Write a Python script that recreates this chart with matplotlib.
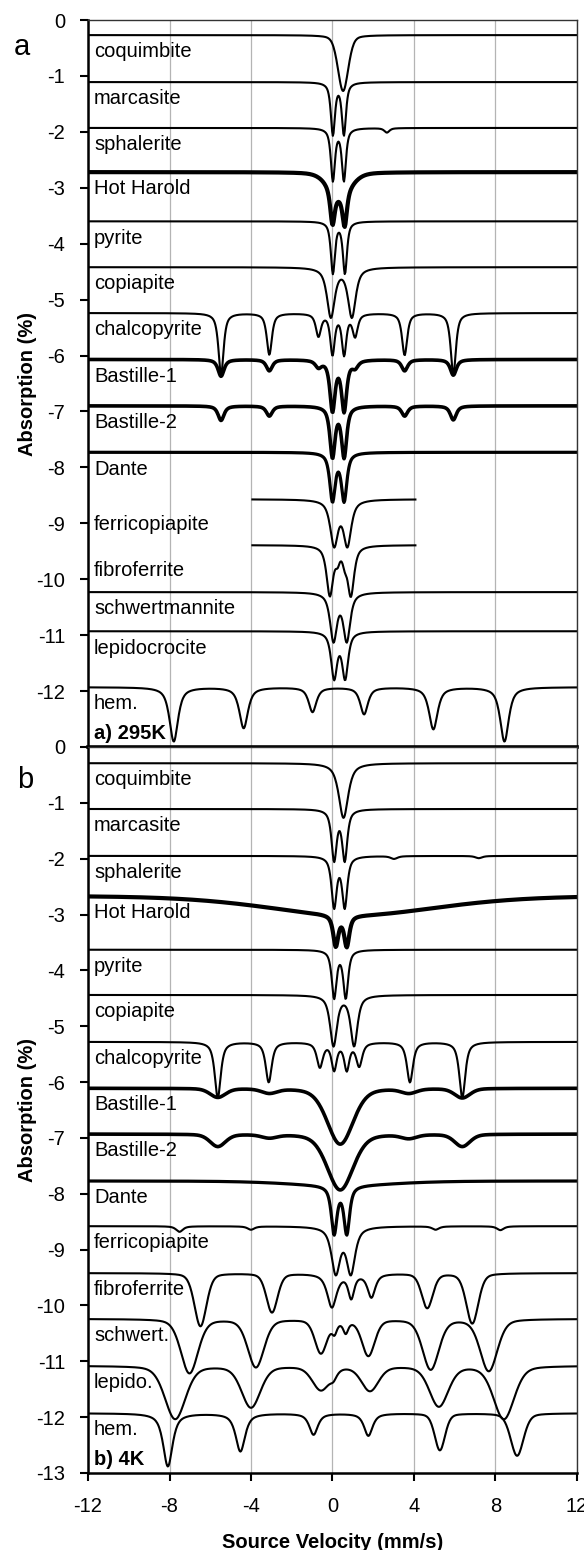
import numpy as np
import matplotlib.pyplot as plt

plt.rcParams['font.family'] = ['Liberation Sans', 'DejaVu Sans']
plt.rcParams['axes.unicode_minus'] = False

vel = np.linspace(-12, 12, 700)

# ---- a) 295 K ----
names_295 = ['coquimbite', 'marcasite', 'sphalerite', 'Hot Harold', 'pyrite', 'copiapite',
             'chalcopyrite', 'Bastille-1', 'Bastille-2', 'Dante', 'ferricopiapite',
             'fibroferrite', 'schwertmannite', 'lepidocrocite', 'hem.']
base_295 = [-0.27, -1.11, -1.93, -2.72, -3.60, -4.42, -5.24, -6.07, -6.90, -7.73,
            -8.57, -9.39, -10.23, -10.93, -11.93]
# absorption lines: (centre mm/s, depth %, fwhm mm/s)
peaks_295 = [
    [(0.52, 1.0, 0.6)],
    [(0.02, 0.93, 0.24), (0.56, 0.93, 0.24)],
    [(0.02, 0.93, 0.24), (0.56, 0.93, 0.24), (2.67, 0.08, 0.3)],
    [(0.0, 0.62, 0.26), (0.6, 0.62, 0.26), (0.35, 0.38, 1.3)],
    [(0.02, 0.92, 0.24), (0.61, 0.92, 0.24)],
    [(-0.08, 0.88, 0.45), (0.95, 0.88, 0.45)],
    [(-5.47, 1.1, 0.3), (-3.1, 0.74, 0.3), (-0.69, 0.4, 0.3), (0.0, 0.72, 0.26),
     (0.57, 0.72, 0.26), (1.11, 0.4, 0.3), (3.54, 0.75, 0.3), (5.93, 1.1, 0.3)],
    [(-5.47, 0.3, 0.35), (-3.1, 0.2, 0.35), (-0.69, 0.12, 0.35), (0.0, 0.9, 0.3),
     (0.57, 0.9, 0.3), (1.11, 0.12, 0.35), (3.54, 0.2, 0.35), (5.93, 0.28, 0.35)],
    [(-5.47, 0.26, 0.35), (-3.1, 0.18, 0.35), (0.0, 0.9, 0.3), (0.57, 0.9, 0.3),
     (3.54, 0.18, 0.35), (5.93, 0.25, 0.35)],
    [(0.0, 0.85, 0.32), (0.57, 0.85, 0.32)],
    [(0.08, 0.8, 0.45), (0.73, 0.8, 0.45)],
    [(-0.13, 0.88, 0.38), (0.9, 0.88, 0.38), (0.25, 0.2, 0.25), (0.6, 0.2, 0.25)],
    [(0.05, 0.85, 0.4), (0.7, 0.85, 0.4)],
    [(0.08, 0.82, 0.35), (0.62, 0.82, 0.35)],
    [(-7.79, 0.97, 0.5), (-4.36, 0.73, 0.5), (-0.98, 0.44, 0.45), (1.55, 0.48, 0.45),
     (4.95, 0.75, 0.5), (8.44, 0.97, 0.5)],
]
span_295 = {'ferricopiapite': (-3.95, 4.1), 'fibroferrite': (-3.95, 4.1)}

# ---- b) 4 K ----
names_4 = ['coquimbite', 'marcasite', 'sphalerite', 'Hot Harold', 'pyrite', 'copiapite',
           'chalcopyrite', 'Bastille-1', 'Bastille-2', 'Dante', 'ferricopiapite',
           'fibroferrite', 'schwert.', 'lepido.', 'hem.']
base_4 = [-0.29, -1.11, -1.95, -2.66, -3.63, -4.44, -5.28, -6.11, -6.93, -7.77,
          -8.58, -9.42, -10.24, -11.08, -11.93]
peaks_4 = [
    [(0.54, 0.98, 0.55)],
    [(0.08, 0.9, 0.3), (0.6, 0.9, 0.3)],
    [(0.08, 0.9, 0.3), (0.6, 0.9, 0.3), (3.02, 0.05, 0.4), (7.18, 0.04, 0.4)],
    [(0.16, 0.55, 0.3), (0.7, 0.55, 0.3), (1.0, 0.35, 10.0)],
    [(0.08, 0.85, 0.28), (0.65, 0.85, 0.28)],
    [(0.05, 0.9, 0.4), (1.06, 0.9, 0.4)],
    [(-5.63, 1.0, 0.35), (-3.13, 0.72, 0.35), (-0.62, 0.44, 0.35), (0.08, 0.48, 0.3),
     (0.7, 0.48, 0.3), (1.31, 0.42, 0.35), (3.8, 0.72, 0.35), (6.37, 1.0, 0.35)],
    [(-5.63, 0.16, 0.9), (-3.1, 0.08, 0.9), (0.38, 1.0, 1.5), (3.75, 0.08, 0.9),
     (6.37, 0.17, 0.9)],
    [(-5.63, 0.22, 0.9), (-3.1, 0.06, 0.9), (0.38, 1.0, 1.5), (3.75, 0.07, 0.9),
     (6.37, 0.22, 0.9)],
    [(0.08, 0.85, 0.33), (0.7, 0.85, 0.33), (0.4, 0.08, 6.0)],
    [(-7.51, 0.1, 0.4), (-4.0, 0.06, 0.4), (0.16, 0.82, 0.5), (0.9, 0.82, 0.5),
     (5.06, 0.06, 0.4), (8.24, 0.07, 0.4)],
    [(-6.48, 0.95, 0.7), (-2.97, 0.7, 0.65), (-0.03, 0.6, 0.55), (0.92, 0.42, 0.35),
     (1.91, 0.42, 0.45), (4.65, 0.62, 0.65), (6.86, 0.9, 0.7)],
    [(-7.02, 0.97, 1.0), (-3.76, 0.86, 0.95), (-0.57, 0.6, 0.7), (0.1, 0.2, 0.3),
     (0.65, 0.22, 0.3), (1.76, 0.65, 0.75), (4.82, 0.9, 0.95), (7.67, 0.93, 1.0)],
    [(-7.72, 0.95, 1.2), (-4.0, 0.74, 1.1), (-0.57, 0.42, 1.0), (0.05, 0.12, 0.4),
     (1.84, 0.44, 1.0), (5.22, 0.72, 1.1), (8.41, 0.95, 1.2)],
    [(-8.08, 0.95, 0.55), (-4.52, 0.68, 0.55), (-0.93, 0.38, 0.5), (1.76, 0.4, 0.5),
     (5.27, 0.66, 0.6), (9.06, 0.76, 0.75)],
]
span_4 = {}

thick = {'Hot Harold': 3.0, 'Bastille-1': 2.6, 'Bastille-2': 2.6, 'Dante': 2.3}


def spectrum(v, base, lines):
    y = np.full_like(v, base)
    for c, d, w in lines:
        eta = 0.75 if w < 0.6 else 0.3
        lor = 1 / (1 + ((v - c) / (w / 2)) ** 2)
        gau = np.exp(-4 * np.log(2) * ((v - c) / w) ** 2)
        y -= d * (eta * lor + (1 - eta) * gau)
    return y


fig = plt.figure(figsize=(5.84, 15.5), dpi=100)
left, width = 88 / 584, (577 - 88) / 584
ax1 = fig.add_axes([left, 1 - 747 / 1550, width, (747 - 20) / 1550])
ax2 = fig.add_axes([left, 1 - 1473 / 1550, width, (1473 - 747) / 1550])

fs = 14.5
for ax, names, bases, peaks, spans, tag in [
        (ax1, names_295, base_295, peaks_295, span_295, 'a) 295K'),
        (ax2, names_4, base_4, peaks_4, span_4, 'b) 4K')]:
    for name, b, lines in zip(names, bases, peaks):
        if name in spans:
            lo, hi = spans[name]
            v = vel[(vel >= lo) & (vel <= hi)]
            dy = 0.45
        else:
            v = vel
            dy = 0.3
        ax.plot(v, spectrum(v, b, lines), color='black', lw=thick.get(name, 1.5),
                solid_joinstyle='round')
        ax.text(-11.7, b - dy, name, fontsize=fs, va='center', ha='left')
    ax.text(-11.7, -12.75, tag, fontsize=fs, fontweight='bold', va='center', ha='left')
    ax.set_xlim(-12, 12)
    ax.set_ylim(-13, 0)
    ax.set_xticks([-12, -8, -4, 0, 4, 8, 12])
    ax.grid(axis='x', color='#b4b4b4', lw=0.9)
    ax.set_axisbelow(True)
    ax.set_ylabel('Absorption (%)', fontsize=fs, fontweight='bold')
    ax.yaxis.set_label_coords(-0.104, 0.5)
    for s in ['top', 'right']:
        ax.spines[s].set_linewidth(1.0)
        ax.spines[s].set_color('#333333')
    for s in ['left', 'bottom']:
        ax.spines[s].set_linewidth(1.8)
    ax.tick_params(axis='y', direction='out', length=5.5, width=1.5, pad=11, labelsize=fs)
    ax.tick_params(axis='x', direction='out', length=5.5, width=1.5, pad=12, labelsize=fs)

ax1.set_yticks(range(0, -13, -1))
ax1.set_yticklabels([str(t) for t in range(0, -13, -1)])
ax1.tick_params(axis='x', bottom=False, labelbottom=False)
ax1.spines['bottom'].set_linewidth(2.6)
ax2.set_yticks(range(0, -14, -1))
ax2.set_yticklabels([str(t) for t in range(0, -14, -1)])
ax2.set_xticklabels(['-12', '-8', '-4', '0', '4', '8', '12'])
ax2.set_xlabel('Source Velocity (mm/s)', fontsize=fs, fontweight='bold', labelpad=12)

fig.text(22 / 584, 1 - 47 / 1550, 'a', fontsize=21, ha='center', va='center')
fig.text(25 / 584, 1 - 780 / 1550, 'b', fontsize=21, ha='center', va='center')

fig.savefig('out.png', dpi=100)
